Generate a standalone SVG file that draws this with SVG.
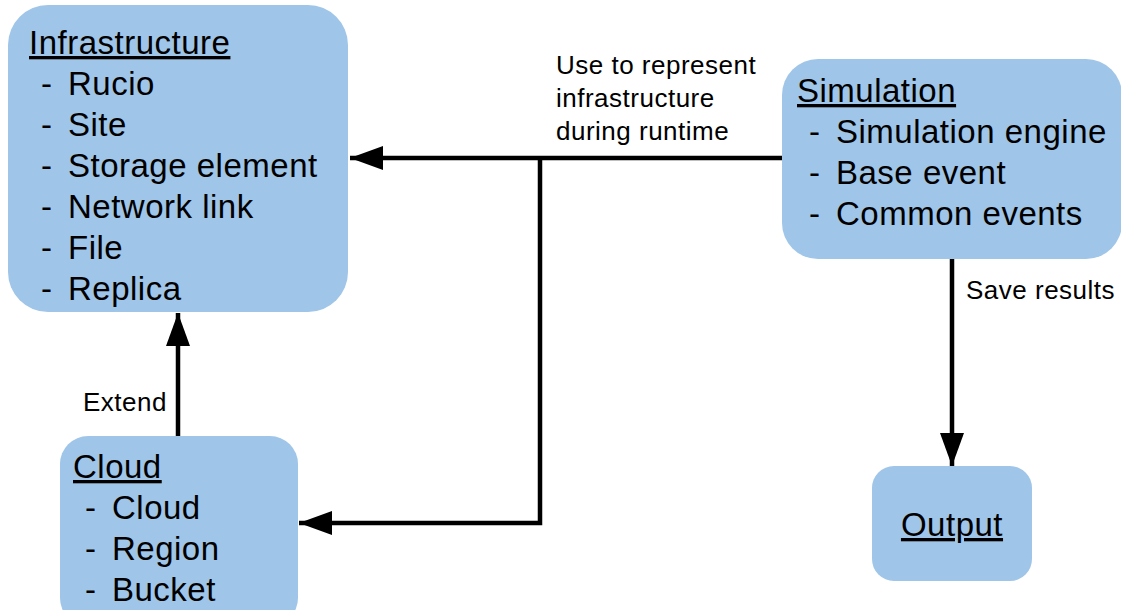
<svg xmlns="http://www.w3.org/2000/svg" width="1121" height="610" viewBox="0 0 1121 610">
  <style>
    .box { fill: #9fc5e8; }
    .t { font-family: "Liberation Sans", Arial, sans-serif; font-size: 33px; letter-spacing: 0.5px; fill: #000; }
    .title { text-decoration: underline; }
    .lbl { font-family: "Liberation Sans", Arial, sans-serif; font-size: 26px; letter-spacing: 0.5px; fill: #000; }
    .wire { stroke: #000; stroke-width: 4.5; fill: none; }
  </style>
  <defs>
    <marker id="arrow" markerUnits="userSpaceOnUse" markerWidth="34" markerHeight="26" refX="33" refY="13" orient="auto">
      <path d="M0,1 L33,13 L0,25 z" fill="#000"/>
    </marker>
  </defs>
  <rect width="1121" height="610" fill="#fff"/>

  <g id="infrastructure">
    <rect class="box" x="8" y="5" width="340" height="307" rx="40"/>
    <text class="t title" x="29" y="54">Infrastructure</text>
    <text class="t" x="41" y="95">-</text><text class="t" x="68" y="95">Rucio</text>
    <text class="t" x="41" y="136">-</text><text class="t" x="68" y="136">Site</text>
    <text class="t" x="41" y="177">-</text><text class="t" x="68" y="177">Storage element</text>
    <text class="t" x="41" y="218">-</text><text class="t" x="68" y="218">Network link</text>
    <text class="t" x="41" y="259">-</text><text class="t" x="68" y="259">File</text>
    <text class="t" x="41" y="300">-</text><text class="t" x="68" y="300">Replica</text>
  </g>

  <g id="simulation">
    <rect class="box" x="782" y="59" width="340" height="200" rx="36"/>
    <text class="t title" x="797" y="102">Simulation</text>
    <text class="t" x="809" y="143">-</text><text class="t" x="836" y="143">Simulation engine</text>
    <text class="t" x="809" y="184">-</text><text class="t" x="836" y="184">Base event</text>
    <text class="t" x="809" y="225">-</text><text class="t" x="836" y="225">Common events</text>
  </g>

  <g id="cloud">
    <rect class="box" x="60" y="436" width="238" height="190" rx="28"/>
    <text class="t title" x="73" y="478">Cloud</text>
    <text class="t" x="85" y="519">-</text><text class="t" x="112" y="519">Cloud</text>
    <text class="t" x="85" y="560">-</text><text class="t" x="112" y="560">Region</text>
    <text class="t" x="85" y="601">-</text><text class="t" x="112" y="601">Bucket</text>
  </g>

  <g id="output">
    <rect class="box" x="872" y="466" width="160" height="115" rx="22"/>
    <text class="t title" x="952" y="536" text-anchor="middle">Output</text>
  </g>

  <g id="connectors">
    <path class="wire" d="M782,158 L350,158" marker-end="url(#arrow)"/>
    <path class="wire" d="M540,158 L540,523 L299,523" marker-end="url(#arrow)"/>
    <path class="wire" d="M178,436 L178,313" marker-end="url(#arrow)"/>
    <path class="wire" d="M952,259 L952,466" marker-end="url(#arrow)"/>
    <text class="lbl" x="556" y="74">Use to represent</text>
    <text class="lbl" x="556" y="107">infrastructure</text>
    <text class="lbl" x="556" y="140">during runtime</text>
    <text class="lbl" x="83" y="411">Extend</text>
    <text class="lbl" x="966" y="299">Save results</text>
  </g>
</svg>
